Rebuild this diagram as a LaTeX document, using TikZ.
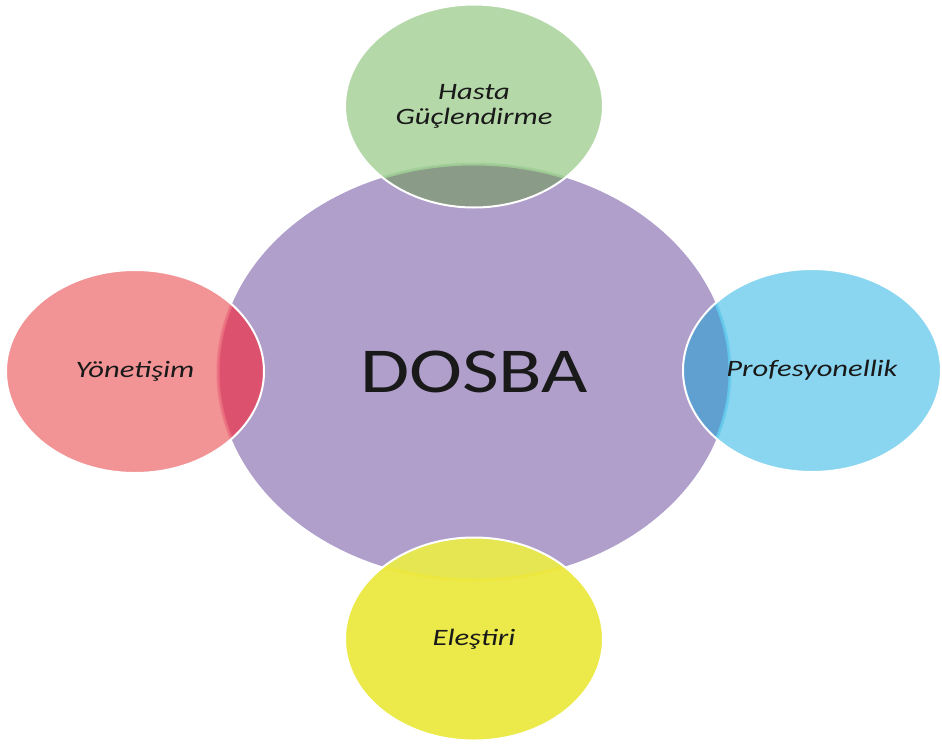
\documentclass[tikz,border=0pt]{standalone}
\usepackage{fontspec}
\setmainfont{Carlito}
\newfontfamily\labelfont[FakeStretch=1.3]{Carlito}
\newfontfamily\hubfont[FakeStretch=1.25]{Carlito}
\usetikzlibrary{shapes.geometric}
\definecolor{hubfill}{RGB}{176,159,202}
\definecolor{topfill}{RGB}{181,216,169}
\definecolor{topmix}{RGB}{138,156,135}
\definecolor{topedge}{RGB}{160,208,150}
\definecolor{leftfill}{RGB}{242,148,150}
\definecolor{leftmix}{RGB}{220,82,110}
\definecolor{leftedge}{RGB}{236,112,128}
\definecolor{rightfill}{RGB}{138,214,240}
\definecolor{rightmix}{RGB}{95,160,208}
\definecolor{rightedge}{RGB}{100,204,238}
\definecolor{botfill}{RGB}{236,234,74}
\definecolor{botmix}{RGB}{230,230,82}
\definecolor{botedge}{RGB}{238,232,60}
\definecolor{inkdark}{RGB}{25,25,25}
\tikzset{
  hub/.style={ellipse, inner sep=0pt, minimum width=512pt, minimum height=416pt,
    fill=hubfill, text=inkdark, font=\hubfont\fontsize{64}{64}\selectfont},
  petal/.style={ellipse, inner sep=0pt, minimum width=258pt, minimum height=203pt,
    text=inkdark, align=center, font=\labelfont\itshape\fontsize{23.5}{25}\selectfont},
  rim/.style={draw=white, line width=2pt},
  hubedge/.style={line width=3pt, opacity=0.8},
}
\begin{document}
\begin{tikzpicture}[x=1pt,y=-1pt]
\useasboundingbox (0,0) rectangle (942,747);
% central hub
\node[hub] (hub) at (474,372) {};
% petals
\node[petal, fill=topfill] (top) at (474,106) {};
\node[petal, fill=leftfill] (left) at (135,371.5) {};
\node[petal, fill=rightfill] (right) at (812,370.5) {};
\node[petal, fill=botfill] (bot) at (474,639) {};
% overlaps of each petal with the hub
\begin{scope}
  \clip (474,372) ellipse [x radius=256, y radius=208];
  \fill[topmix] (474,106) ellipse [x radius=129, y radius=101.5];
  \fill[leftmix] (135,371.5) ellipse [x radius=129, y radius=101.5];
  \fill[rightmix] (812,370.5) ellipse [x radius=129, y radius=101.5];
  \fill[botmix] (474,639) ellipse [x radius=129, y radius=101.5];
\end{scope}
% hub outline seen through each petal
\foreach \cx/\cy/\col in {474/106/topedge, 135/371.5/leftedge, 812/370.5/rightedge, 474/639/botedge}{
  \begin{scope}
    \clip (\cx,\cy) ellipse [x radius=129, y radius=101.5];
    \draw[hubedge, \col] (474,372) ellipse [x radius=256, y radius=208];
  \end{scope}
}
% white rims of the petals
\draw[rim] (474,106) ellipse [x radius=129, y radius=101.5];
\draw[rim] (135,371.5) ellipse [x radius=129, y radius=101.5];
\draw[rim] (812,370.5) ellipse [x radius=129, y radius=101.5];
\draw[rim] (474,639) ellipse [x radius=129, y radius=101.5];
% labels
\node[hub, fill=none] at (hub) {DOSBA};
\node[petal] at (474,106) {Hasta\\Güçlendirme};
\node[petal] at (135,371.5) {Yönetişim};
\node[petal] at (812,370.5) {Profesyonellik};
\node[petal] at (474,639) {Eleştiri};
\end{tikzpicture}
\end{document}
